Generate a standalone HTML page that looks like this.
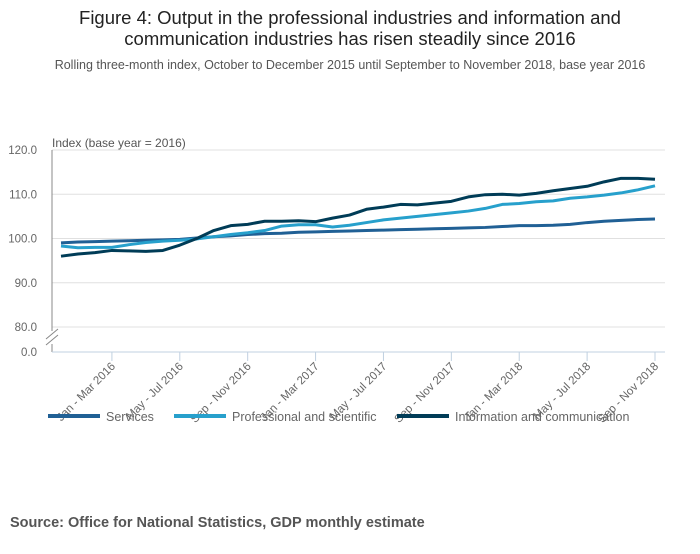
<!DOCTYPE html>
<html><head><meta charset="utf-8"><style>
body{margin:0;background:#fff;width:700px;height:549px;overflow:hidden;font-family:"Liberation Sans",sans-serif}
svg text{font-family:"Liberation Sans",sans-serif}
</style></head><body>
<svg id="c" width="700" height="549">
<text x="350" y="24" text-anchor="middle" font-size="18.5" fill="#222">Figure 4: Output in the professional industries and information and</text>
<text x="350" y="45" text-anchor="middle" font-size="18.5" fill="#222">communication industries has risen steadily since 2016</text>
<text x="350" y="69" text-anchor="middle" font-size="12.5" fill="#555">Rolling three-month index, October to December 2015 until September to November 2018, base year 2016</text>
<text x="52" y="147" font-size="12" fill="#555">Index (base year = 2016)</text>
<text x="10" y="527" font-size="14.5" font-weight="bold" fill="#555">Source: Office for National Statistics, GDP monthly estimate</text>
<g id="grid"></g><g id="series"></g><g id="xax"></g><g id="legend"></g>
</svg>
<script>
const categories=["Oct - Dec 2015","Nov - Jan 2016","Dec - Feb 2016","Jan - Mar 2016","Feb - Apr 2016","Mar - May 2016","Apr - Jun 2016","May - Jul 2016","Jun - Aug 2016","Jul - Sep 2016","Aug - Oct 2016","Sep - Nov 2016","Oct - Dec 2016","Nov - Jan 2017","Dec - Feb 2017","Jan - Mar 2017","Feb - Apr 2017","Mar - May 2017","Apr - Jun 2017","May - Jul 2017","Jun - Aug 2017","Jul - Sep 2017","Aug - Oct 2017","Sep - Nov 2017","Oct - Dec 2017","Nov - Jan 2018","Dec - Feb 2018","Jan - Mar 2018","Feb - Apr 2018","Mar - May 2018","Apr - Jun 2018","May - Jul 2018","Jun - Aug 2018","Jul - Sep 2018","Aug - Oct 2018","Sep - Nov 2018"];
const services=[99.0,99.2,99.3,99.4,99.5,99.6,99.7,99.8,100.1,100.4,100.6,100.9,101.1,101.2,101.4,101.5,101.6,101.7,101.8,101.9,102.0,102.1,102.2,102.3,102.4,102.5,102.7,102.9,102.9,103.0,103.2,103.6,103.9,104.1,104.3,104.4];
const professional=[98.3,97.9,98.0,98.0,98.6,99.1,99.4,99.6,99.9,100.4,100.9,101.3,101.8,102.8,103.1,103.1,102.6,103.0,103.6,104.2,104.6,105.0,105.4,105.8,106.2,106.8,107.7,107.9,108.3,108.5,109.1,109.4,109.8,110.3,111.0,111.9];
const infocomm=[96.0,96.5,96.8,97.3,97.2,97.1,97.3,98.5,100.0,101.8,102.9,103.2,103.9,103.9,104.0,103.8,104.6,105.3,106.6,107.1,107.7,107.6,108.0,108.4,109.4,109.9,110.0,109.8,110.2,110.8,111.3,111.8,112.8,113.6,113.6,113.4];
const yTicks=[80,90,100,110,120];
const seriesNames=["Services","Professional and scientific","Information and communication"];
const NS="http://www.w3.org/2000/svg";
function xs(i){return 61+i*(655-61)/(categories.length-1);}
function ys(v){return v>=80?327-(v-80)*(177/40):352-v*(25/80);}
function mk(t,a,p){const e=document.createElementNS(NS,t);for(const k in a)e.setAttribute(k,a[k]);p.appendChild(e);return e;}
const grid=document.getElementById('grid');
yTicks.forEach(v=>{
 const l=mk('line',{x1:52,x2:665,y1:ys(v),y2:ys(v),stroke:'#e0e0e0','stroke-width':1},grid);
 
 
 const t=mk('text',{x:37,y:ys(v)+4,'text-anchor':'end','font-size':11.5,fill:'#666'},grid);t.textContent=v.toFixed(1);
 
 
});
const z=mk('text',{x:37,y:ys(0)+4,'text-anchor':'end','font-size':11.5,fill:'#666'},grid);z.textContent="0.0";


const ya=mk('path',{d:'M52 150V331 M52 344V352',stroke:'#888',fill:'none'},grid);


const br=mk('path',{d:'M46 339L58 329 M46 345L58 335',stroke:'#888',fill:'none'},grid);


const xa=mk('line',{x1:52,x2:665,y1:352,y2:352,stroke:'#c0d0e0'},grid);


const xg=document.getElementById('xax');
categories.forEach((c,i)=>{
 if(i%4!==3)return;
 const x=xs(i);
 const tk=mk('line',{x1:x,x2:x,y1:352,y2:361,stroke:'#c0d0e0'},xg);
 
 
 const t=mk('text',{x:x+4,y:367,'text-anchor':'end','font-size':11.5,fill:'#666',transform:`rotate(-45 ${x+4} 367)`},xg);t.textContent=c;
 
 
});
const colors=['#206095','#27a0cc','#003c57'];
const sg=document.getElementById('series');
[services,professional,infocomm].forEach((d,k)=>{
 const p=mk('polyline',{points:d.map((v,i)=>xs(i)+','+ys(v)).join(' '),fill:'none',stroke:colors[k],'stroke-width':3,'stroke-linejoin':'round'},sg);
 
 
});
const lg=document.getElementById('legend');
const lx=[48,174,397];
seriesNames.forEach((n,k)=>{
 const l=mk('line',{x1:lx[k],x2:lx[k]+52,y1:416,y2:416,stroke:colors[k],'stroke-width':4},lg);
 
 
 const t=mk('text',{x:lx[k]+58,y:421,'font-size':12.5,fill:'#666'},lg);t.textContent=n;
 
 
});
</script>
</body></html>
